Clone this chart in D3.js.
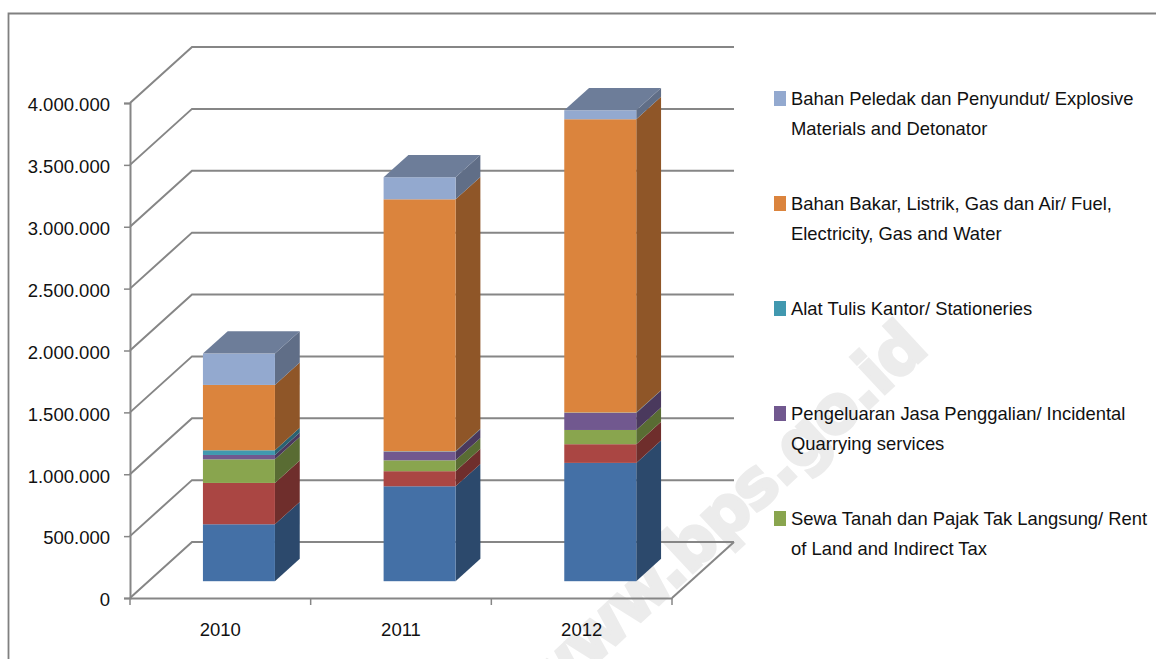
<!DOCTYPE html>
<html>
<head>
<meta charset="utf-8">
<script src="https://cdn.jsdelivr.net/npm/d3@7"></script>
<style>
  html, body { margin: 0; padding: 0; background: #fff; }
  svg { display: block; }
  text { font-family: "Liberation Sans", Arial, sans-serif; fill: #111; }
</style>
</head>
<body>
<svg width="1156" height="659"></svg>
<script>
// values, bottom of the stack first
const years = ["2010", "2011", "2012"];
const blueValues = [460000, 767000, 956000];
const redValues = [334000, 122000, 151000];
const greenValues = [191000, 88000, 115000];
const purpleValues = [35000, 70000, 138000];
const tealValues = [38000, 3000, 3000];
const orangeValues = [528000, 2036000, 2370000];
const lightBlueValues = [253000, 178000, 72000];
const yTicks = [0, 500000, 1000000, 1500000, 2000000, 2500000, 3000000, 3500000, 4000000];

const seriesColors = ["#4470a6", "#aa4643", "#89a54e", "#71588f", "#4198af", "#db843d", "#93a9cf"];
const seriesValues = [blueValues, redValues, greenValues, purpleValues, tealValues, orangeValues, lightBlueValues];

// legend top to bottom, each entry is [colour index, line 1, line 2]
const legendEntries = [
  [6, "Bahan Peledak dan Penyundut/ Explosive", "Materials and Detonator"],
  [5, "Bahan Bakar, Listrik, Gas dan Air/ Fuel,", "Electricity, Gas and Water"],
  [4, "Alat Tulis Kantor/ Stationeries", ""],
  [3, "Pengeluaran Jasa Penggalian/ Incidental", "Quarrying services"],
  [2, "Sewa Tanah dan Pajak Tak Langsung/ Rent", "of Land and Indirect Tax"]
];

const svg = d3.select("svg");
const axisColor = "#868686";

// frame around the chart, only left and top are in the crop
svg.append("path")
  .attr("d", "M8.5,659V13.5H1156")
  .attr("fill", "none")
  .attr("stroke", "#808080")
  .attr("stroke-width", 1.8);

// watermark
svg.append("text")
  .attr("transform", "translate(725,518) rotate(-43)")
  .attr("text-anchor", "middle")
  .attr("dominant-baseline", "middle")
  .attr("font-size", 66)
  .attr("font-weight", "bold")
  .attr("letter-spacing", -2)
  .style("font-family", "'DejaVu Sans'")
  .style("fill", "#ececec")
  .style("stroke", "#ececec")
  .style("stroke-width", 3)
  .text("www.bps.go.id");

const x = d3.scaleBand().domain(years).range([130, 672]);
const y = d3.scaleLinear().domain([0, 4000000]).range([598, 103]);

// 3d depth of the plot
const depthX = 62, depthY = -56;
const barWidth = 72;

// walls and floor
const walls = svg.append("g")
  .attr("fill", "none")
  .attr("stroke", axisColor)
  .attr("stroke-width", 2);

walls.selectAll(".grid")
  .data(yTicks)
  .enter().append("path")
  .attr("class", "grid")
  .attr("d", d => `M130,${y(d)}L${130 + depthX},${y(d) + depthY}H${672 + depthX}`);

walls.append("path")
  .attr("d", `M672,598L${672 + depthX},${598 + depthY}`);

// axes
const fmt = d3.formatLocale({ decimal: ",", thousands: ".", grouping: [3], currency: ["", ""] }).format(",d");

const yAxis = svg.append("g")
  .attr("transform", "translate(130,0)")
  .call(d3.axisLeft(y).tickValues(yTicks).tickFormat(fmt).tickSize(6).tickPadding(14));

const xAxis = svg.append("g")
  .attr("transform", "translate(0,598)")
  .call(d3.axisBottom(x).tickSize(0).tickPadding(25));

[yAxis, xAxis].forEach(a => {
  a.selectAll("path.domain").attr("stroke", axisColor).attr("stroke-width", 2);
  a.selectAll("line").attr("stroke", axisColor).attr("stroke-width", 1.5);
  a.selectAll("text").attr("font-size", 18.5).attr("font-family", null);
});
yAxis.selectAll("text").attr("dy", "0.42em");

// tick marks between the years
xAxis.selectAll(".sep")
  .data([130, x("2011"), x("2012"), 672])
  .enter().append("line")
  .attr("class", "sep")
  .attr("x1", d => d).attr("x2", d => d)
  .attr("y1", 0).attr("y2", 7)
  .attr("stroke", axisColor)
  .attr("stroke-width", 1.5);

// bars: sits between 30% and 70% of the depth
const front = 0.3, back = 0.7;
const stacked = d3.stack().keys(d3.range(seriesValues.length))
  .value((yearIdx, s) => seriesValues[s][yearIdx])(d3.range(years.length));

years.forEach((yr, i) => {
  const left = x(yr) + x.bandwidth() / 2 - barWidth / 2 + depthX * front;
  const right = left + barWidth;
  const dx = depthX * (back - front), dy = depthY * (back - front);
  const lift = depthY * front;
  const g = svg.append("g");

  stacked.forEach((layer, s) => {
    const y0 = y(layer[i][0]) + lift, y1 = y(layer[i][1]) + lift;
    const c = seriesColors[s];
    g.append("path") // side
      .attr("d", `M${right},${y0}L${right + dx},${y0 + dy}V${y1 + dy}L${right},${y1}Z`)
      .attr("fill", d3.rgb(c).darker(1.2));
    g.append("rect") // front
      .attr("x", left).attr("y", y1)
      .attr("width", barWidth).attr("height", y0 - y1)
      .attr("fill", c);
  });

  // top of the stack
  const topY = y(stacked[stacked.length - 1][i][1]) + lift;
  g.append("path")
    .attr("d", `M${left},${topY}L${left + dx},${topY + dy}H${right + dx}L${right},${topY}Z`)
    .attr("fill", d3.rgb(seriesColors[6]).darker(0.85));
});

// legend
const legend = svg.selectAll(".legend")
  .data(legendEntries)
  .enter().append("g")
  .attr("class", "legend")
  .attr("transform", (d, i) => `translate(774,${98.5 + i * 105})`);

legend.append("rect")
  .attr("y", -7.5)
  .attr("width", 12)
  .attr("height", 15)
  .attr("fill", d => seriesColors[d[0]]);

legend.append("text")
  .attr("x", 17).attr("y", 6.5)
  .attr("font-size", 18.4)
  .text(d => d[1]);

legend.append("text")
  .attr("x", 17).attr("y", 36.5)
  .attr("font-size", 18.4)
  .text(d => d[2]);
</script>
</body>
</html>
